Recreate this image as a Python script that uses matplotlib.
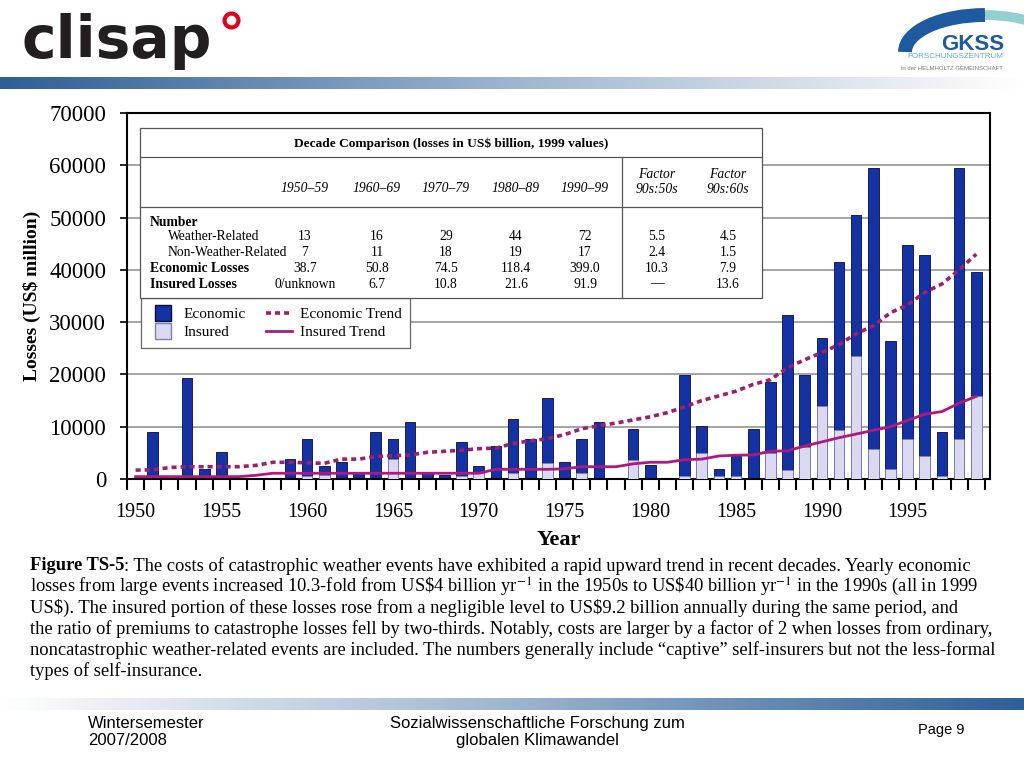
import matplotlib.pyplot as plt
import numpy as np
from matplotlib.lines import Line2D
from matplotlib.patches import Rectangle, Arc
from matplotlib.colors import LinearSegmentedColormap

plt.rcParams['font.family'] = ['Liberation Serif', 'DejaVu Serif']
plt.rcParams['mathtext.fontset'] = 'stix'

# ---- data ----
years = list(range(1950, 2000))
economic = [0, 9000, 0, 19300, 2000, 5200, 0, 0, 0, 3900,
            7650, 2550, 3200, 1300, 9050, 7650, 10850, 1300, 750, 7000,
            2550, 6400, 11500, 7650, 15400, 3200, 7650, 10850, 0, 9600,
            2700, 0, 19900, 10200, 1900, 4450, 9550, 18600, 31400, 19900,
            26900, 41500, 50500, 59400, 26300, 44700, 42800, 9000, 59400, 39600]
insured = [0, 0, 0, 0, 0, 0, 0, 0, 0, 0,
           500, 700, 0, 0, 0, 3800, 0, 0, 0, 600,
           1100, 0, 1200, 0, 3000, 0, 1100, 0, 0, 3600,
           0, 0, 600, 4900, 600, 500, 0, 4900, 1700, 6200,
           14000, 9400, 23500, 5700, 1900, 7600, 4400, 600, 7600, 15900]
economic_trend = [1700, 1750, 2200, 2350, 2350, 2350, 2350, 2600, 3200, 3200,
                  3100, 3000, 3800, 3800, 4300, 4450, 4600, 5100, 5300, 5500,
                  5800, 5900, 6800, 7300, 7700, 8500, 9600, 10200, 10700, 11300,
                  11900, 12700, 13800, 15000, 15900, 16800, 18100, 19000, 21300, 22800,
                  24200, 25700, 27800, 29300, 31800, 33300, 35700, 37300, 40000, 43000]
insured_trend = [450, 450, 450, 450, 450, 450, 450, 700, 1100, 1100,
                 1100, 1100, 1100, 1100, 1100, 1100, 1100, 1100, 1100, 1100,
                 1100, 1850, 1850, 1850, 1850, 1950, 2350, 2350, 2350, 2900,
                 3200, 3200, 3700, 3800, 4400, 4550, 4600, 5300, 5400, 6300,
                 7100, 7900, 8600, 9300, 10000, 11200, 12400, 12900, 14500, 15800]
label_years = list(range(1950, 1996, 5))

# decade comparison table
decades = ['1950–59', '1960–69', '1970–79', '1980–89', '1990–99']
factor_heads = ['Factor\n90s:50s', 'Factor\n90s:60s']
row_names = ['Weather-Related', 'Non-Weather-Related', 'Economic Losses', 'Insured Losses']
weather_related = ['13', '16', '29', '44', '72', '5.5', '4.5']
non_weather = ['7', '11', '18', '19', '17', '2.4', '1.5']
economic_losses = ['38.7', '50.8', '74.5', '118.4', '399.0', '10.3', '7.9']
insured_losses = ['0/unknown', '6.7', '10.8', '21.6', '91.9', '—', '13.6']

caption = [
    ": The costs of catastrophic weather events have exhibited a rapid upward trend in recent decades. Yearly economic",
    r"losses from large events increased 10.3-fold from US\$4 billion yr$^{-1}$ in the 1950s to US\$40 billion yr$^{-1}$ in the 1990s (all in 1999",
    r"US\$). The insured portion of these losses rose from a negligible level to US\$9.2 billion annually during the same period, and",
    "the ratio of premiums to catastrophe losses fell by two-thirds. Notably, costs are larger by a factor of 2 when losses from ordinary,",
    "noncatastrophic weather-related events are included. The numbers generally include “captive” self-insurers but not the less-formal",
    "types of self-insurance.",
]

econ_col = '#1232A6'
ins_col = '#DAD8F2'
etrend_col = '#9E1F6F'
itrend_col = '#B0187F'

fig = plt.figure(figsize=(10.24, 7.68), dpi=100)
W, H = 1024, 768

# ---- main chart ----
ax = fig.add_axes([127 / W, 1 - 479 / H, (990 - 127) / W, (479 - 113) / H])
ax.bar(years, economic, width=0.62, color=econ_col, edgecolor='#0A0A40', linewidth=0.6, zorder=2)
ax.bar(years, insured, width=0.62, color=ins_col, edgecolor='#8080A0', linewidth=0.5, zorder=3)
ax.plot(years, economic_trend, color=etrend_col, lw=2.6, ls=(0, (1.4, 1.1)), zorder=4)
ax.plot(years, insured_trend, color=itrend_col, lw=2.0, zorder=4)

ax.set_xlim(1949.5, 1999.8)
ax.set_ylim(0, 70000)
ax.set_yticks(range(0, 70001, 10000))
ax.yaxis.grid(True, color='#8C8C8C', lw=1.1)
ax.set_axisbelow(True)
ax.set_xticks(label_years)
ax.set_xticks(np.arange(1949.5, 2000, 1), minor=True)
ax.tick_params(axis='x', which='major', length=0, pad=17, labelsize=14.5)
ax.tick_params(axis='x', which='minor', length=8, width=1.5, direction='out')
ax.tick_params(axis='y', length=5, width=1.2, labelsize=16.5, pad=10)
for s in ax.spines.values():
    s.set_linewidth(1.5)
ax.set_xlabel('Year', fontsize=16, fontweight='bold', labelpad=6)
ax.set_ylabel(r'Losses (US\$ million)', fontsize=14, fontweight='bold', labelpad=6)

handles = [Line2D([], [], marker='s', ls='none', ms=11, mfc=econ_col, mec='#0A0A40'),
           Line2D([], [], marker='s', ls='none', ms=11, mfc=ins_col, mec='#8080A0'),
           Line2D([], [], color=etrend_col, lw=2.6, ls=(0, (1.4, 1.1))),
           Line2D([], [], color=itrend_col, lw=2.0)]
leg = ax.legend(handles, ['Economic', 'Insured', 'Economic Trend', 'Insured Trend'],
                ncol=2, loc='upper left', bbox_to_anchor=(141 / W, 1 - 298 / H),
                bbox_transform=fig.transFigure, borderaxespad=0, fontsize=11,
                handlelength=1.7, handletextpad=0.5, columnspacing=1.3,
                labelspacing=0.3, borderpad=0.6, fancybox=False, framealpha=1)
leg.get_frame().set_edgecolor('#666666')
leg.get_frame().set_linewidth(0.9)

# ---- overlay in pixel coordinates: table, header, footer, caption ----
deco = fig.add_axes([0, 0, 1, 1], zorder=5)
deco.axis('off')

# table
deco.add_patch(Rectangle((140, 128), 622, 170, facecolor='white', edgecolor='#555555', lw=0.9))
deco.plot([140, 762], [157, 157], color='#555555', lw=0.9)
deco.plot([140, 762], [207, 207], color='#555555', lw=0.9)
deco.plot([622, 622], [157, 298], color='#555555', lw=0.9)
deco.text(451, 144, r'Decade Comparison (losses in US\$ billion, 1999 values)',
          ha='center', va='center', fontsize=9.6, fontweight='bold')
col_x = [305, 377, 446, 516, 585, 657, 728]
for x, d in zip(col_x[:5], decades):
    deco.text(x, 189, d, ha='center', va='center', fontsize=9.8, style='italic')
for x, f in zip(col_x[5:], factor_heads):
    deco.text(x, 182, f, ha='center', va='center', fontsize=9.8, style='italic', linespacing=1.15)
deco.text(150, 222, 'Number', ha='left', va='center', fontsize=9.8, fontweight='bold')
rows = [weather_related, non_weather, economic_losses, insured_losses]
row_y = [237, 253, 268, 284]
for name, vals, y in zip(row_names, rows, row_y):
    bold = name.endswith('Losses')
    deco.text(150 if bold else 168, y, name, ha='left', va='center', fontsize=9.8,
              fontweight='bold' if bold else 'normal')
    for x, v in zip(col_x, vals):
        deco.text(x, y, v, ha='center', va='center', fontsize=9.8)

# header
grad = np.linspace(0, 1, 512).reshape(1, -1)
head_cmap = LinearSegmentedColormap.from_list('head', ['#2E5F98', '#9DB5D0', '#FFFFFF'])
deco.imshow(grad, extent=[0, 1024, 89, 77], cmap=head_cmap, aspect='auto')
deco.imshow(grad[:, ::-1], extent=[0, 1024, 710, 698], cmap=head_cmap, aspect='auto')
deco.text(22, 58, 'clisap', fontsize=42, fontweight='bold', family='DejaVu Sans',
          color='#231F20', ha='left', va='baseline')
deco.plot([231], [20], marker='o', ms=10, mfc='white', mec='#E2001A', mew=3)
deco.add_patch(Arc((985, 52), 160, 74, theta1=180, theta2=270, lw=10, color='#1D5B9E'))
deco.add_patch(Arc((985, 52), 160, 74, theta1=270, theta2=335, lw=7, color='#93CFCF'))
deco.text(1004, 50, 'GKSS', fontsize=16, fontweight='bold', family='Liberation Sans',
          color='#1D5B9E', ha='right', va='baseline')
deco.text(1003, 57, 'FORSCHUNGSZENTRUM', fontsize=5.8, family='Liberation Sans',
          color='#5AAFB4', ha='right', va='center')
deco.text(1003, 68, 'in der HELMHOLTZ GEMEINSCHAFT', fontsize=4.3, family='Liberation Sans',
          color='#777777', ha='right', va='center')

# caption
cap_size = 13.3
first = deco.text(30, 566, 'Figure TS-5', fontsize=cap_size, fontweight='bold', ha='left', va='center')
deco.annotate(caption[0], xy=(1, 0.5), xycoords=first, fontsize=cap_size, ha='left', va='center')
for i, line in enumerate(caption[1:], start=1):
    deco.text(30, 566 + 21 * i, line, fontsize=cap_size, ha='left', va='center')

# footer
deco.text(88, 716, 'Wintersemester\n2007/2008', fontsize=12, family='Liberation Sans',
          ha='left', va='top', linespacing=1.2)
deco.text(537, 716, 'Sozialwissenschaftliche Forschung zum\nglobalen Klimawandel', fontsize=12,
          family='Liberation Sans', ha='center', va='top', multialignment='center', linespacing=1.2)
deco.text(918, 730, 'Page 9', fontsize=10.5, family='Liberation Sans', ha='left', va='center')

deco.set_xlim(0, W)
deco.set_ylim(H, 0)

fig.savefig('out.png', dpi=100)
